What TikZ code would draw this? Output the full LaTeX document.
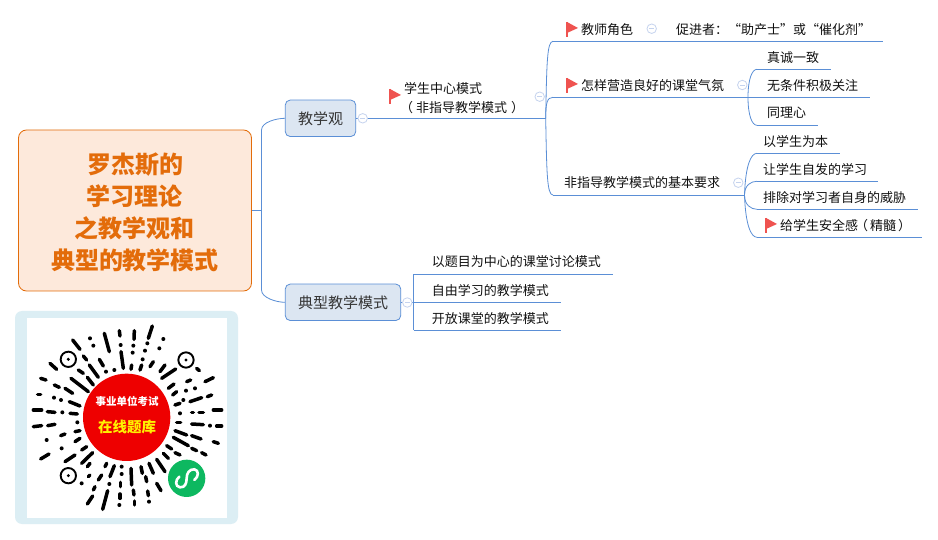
\documentclass[tikz,border=0pt]{standalone}
\usepackage{fontspec}
\setmainfont{Noto Sans CJK SC}
\definecolor{linkc}{HTML}{5B8FD6}
\definecolor{boxfill}{HTML}{DCE6F2}
\definecolor{rootfill}{HTML}{FDE9DB}
\definecolor{rootc}{HTML}{E36C0A}
\definecolor{flagc}{HTML}{EF5350}
\definecolor{collc}{HTML}{C5D3EE}
\definecolor{txt}{HTML}{111111}
\definecolor{qrbg}{HTML}{DCEEF4}
\definecolor{qrred}{HTML}{EE0000}
\definecolor{qrgreen}{HTML}{0DB860}
\definecolor{qryellow}{HTML}{FFF200}
\tikzset{
  conn/.style={draw=linkc,line width=0.8pt},
  topicbox/.style={anchor=south west,inner sep=0pt,minimum height=24pt,align=left,text=txt,font=\fontsize{13}{17}\selectfont},
  mainbox/.style={draw=linkc,fill=boxfill,rounded corners=5pt,line width=0.8pt,inner sep=0pt,text=txt!85!white,font=\fontsize{15}{18}\selectfont},
  rootbox/.style={draw=rootc,fill=rootfill,rounded corners=8pt,line width=0.8pt,inner sep=0pt,align=center,text=rootc,font=\fontsize{24}{32}\selectfont\bfseries},
  collapse/.style={circle,draw=collc,fill=white,line width=0.8pt,minimum size=9.5pt,inner sep=0pt},
  qrstroke/.style={draw=black,line width=3.5pt,line cap=round},
}
\newcommand{\topicat}[6]{\node[topicbox,text width={(#4-#2)*1pt}] (#1) at (#2,#3) {\hspace*{#5pt}#6};
  \draw[conn] (#1.south west) -- (#1.south east);}
\newcommand{\flagat}[2]{\fill[flagc] (#1,#2) rectangle ++(2,15);
  \fill[flagc] (#1+1,#2) -- (#1+12,#2+6) -- (#1+1,#2+11) -- cycle;}
\newcommand{\collapseat}[3]{\node[collapse] (#1) at (#2,#3) {};
  \draw[collc,line width=0.8pt] ([xshift=-2.5pt]#1.center) -- ([xshift=2.5pt]#1.center);}
\begin{document}
\begin{tikzpicture}[x=1pt,y=-1pt]
\useasboundingbox (0,0) rectangle (938,540);
\fill[white] (0,0) rectangle (938,540);

% hubs
\coordinate (trunk) at (261.5,210.5);
\coordinate (hubA) at (545.7,118.3);
\coordinate (hubB) at (748,97.3);
\coordinate (hubC) at (744.5,195);
\coordinate (hubD) at (413.7,302.3);

% root and main boxes
\node[rootbox,minimum width=233pt,minimum height=161pt,text depth=0pt] (root) at (135,210.5) {\raisebox{-1pt}{罗杰斯的}\\\raisebox{-1pt}{学习理论}\\\raisebox{-1pt}{之教学观和}\\\raisebox{-1pt}{典型的教学模式}};
\node[mainbox,minimum width=70.5pt,minimum height=36.5pt] (jxg) at (320.5,118.3) {\raisebox{-1pt}{教学观}};
\node[mainbox,minimum width=115.5pt,minimum height=36.5pt] (dx) at (343,302.3) {\raisebox{-1pt}{典型教学模式}};

\draw[conn] (root.east) -- (trunk);
\draw[conn] (trunk) -- (261.5,130) .. controls +(0,-8) and +(-8,0) .. (jxg.west);
\draw[conn] (trunk) -- (261.5,290) .. controls +(0,8) and +(-8,0) .. (dx.west);
\draw[conn] (jxg.east) -- (hubA);
\draw[conn] (dx.east) -- (hubD);

% centre topic label
\node[anchor=west,inner sep=0pt,align=left,text=txt,font=\fontsize{13}{19}\selectfont] (xs) at (404,98.5) {学生中心模式\\\kern-4pt（\kern3pt 非指导教学模式\kern4pt ）};
\flagat{389}{89}

% level 2 and 3 topics
\topicat{jsjs}{553}{41.3}{660}{28}{教师角色}
\topicat{cj}{660}{41.3}{883}{16}{促进者：“助产士”或“催化剂”}
\topicat{zy}{553}{97.3}{748}{28}{怎样营造良好的课堂气氛}
\topicat{fz}{553}{195}{744.5}{11}{非指导教学模式的基本要求}
\flagat{566}{22}
\flagat{566}{78}

\topicat{zc}{757}{69.3}{831}{10}{真诚一致}
\topicat{wt}{748}{97.3}{870}{19}{无条件积极关注}
\topicat{tl}{757}{125.3}{818}{10}{同理心}

\topicat{yx}{757}{153.3}{840}{6}{以学生为本}
\topicat{rx}{757}{181.3}{878}{6}{让学生自发的学习}
\topicat{pc}{757}{209.3}{918}{6}{排除对学习者自身的威胁}
\topicat{gx}{757}{237.3}{922}{23}{给学生安全感\kern-3pt（\kern2pt 精髓\kern2pt ）}
\flagat{765}{218}

\topicat{yt}{413.7}{274}{613}{18}{以题目为中心的课堂讨论模式}
\topicat{zu}{413.7}{302.3}{561}{18}{自由学习的教学模式}
\topicat{kf}{413.7}{330.3}{561}{18}{开放课堂的教学模式}

% curved links
\draw[conn] (hubA) .. controls +(1,-55) and +(-6,0) .. (jsjs.south west);
\draw[conn] (hubA) .. controls +(0,-15) and +(-6,0) .. (zy.south west);
\draw[conn] (hubA) .. controls +(1,55) and +(-6,0) .. (fz.south west);
\draw[conn] (hubB) .. controls +(0,-18) and +(-5,0) .. (zc.south west);
\draw[conn] (hubB) .. controls +(0,18) and +(-5,0) .. (tl.south west);
\draw[conn] (hubC) .. controls +(1,-30) and +(-6,0) .. (yx.south west);
\draw[conn] (hubC) .. controls +(0,-10) and +(-6,0) .. (rx.south west);
\draw[conn] (hubC) .. controls +(0,10) and +(-6,0) .. (pc.south west);
\draw[conn] (hubC) .. controls +(1,30) and +(-6,0) .. (gx.south west);
\draw[conn] (hubD) -- (yt.south west);
\draw[conn] (hubD) -- (kf.south west);

% collapse markers
\collapseat{c1}{362.7}{118.3}
\collapseat{c2}{407.3}{302.5}
\collapseat{c3}{539.7}{96.7}
\collapseat{c4}{651.7}{28.7}
\collapseat{c5}{742.3}{85}
\collapseat{c6}{738.3}{182.7}

% mini-program code
\fill[qrbg] (15,311) [rounded corners=7pt] rectangle (238,524);
\fill[white] (27,318) rectangle (227,518);
\begin{scope}[shift={(0,300)},x=0.33333pt,y=-0.33333pt]
\foreach \a/\b/\c/\d in {218/120/240/148,313/100/328/155,358/92/360/108,403/92/402/118,457/78/445/115,363/155/370/205,395/195/393/208,460/185/450/200,425/195/420/210,495/195/480/215,298/178/310/198,250/168/260/180,268/195/295/232,235/210/250/220,262/232/280/255,213/235/265/275,150/190/170/208,122/235/138/240,163/255/178/262,195/265/218/280,113/283/122/283,208/305/240/318,100/330/125/330,142/335/165/337,210/340/232/342,100/380/125/377,143/377/165/373,225/395/240/392,182/407/195/402,225/425/240/415,122/477/147/462,195/485/225/465,245/450/260/440,245/490/278/458,262/500/270/490,265/530/270/525,295/540/305/525,315/500/320/490,330/530/343/497,285/560/280/570,262/612/278/588,308/628/323/572,362/547/362/560,360/582/360/595,393/505/395/555,400/570/402/585,403/603/403/615,423/500/427/520,447/490/460/520,437/530/440/545,443/573/445/587,470/478/495/515,470/550/483/572,485/235/527/207,505/265/522/252,518/285/530/275,615/245/640/233,560/245/572/240,590/205/598/212,570/305/605/293,622/290/635/285,525/315/540/310,575/337/580/337,597/337/610/337,640/330/665/330,530/367/542/367,575/372/610/374,650/378/665/378,525/392/560/405,575/407/603/417,640/425/655/430,520/412/565/437,575/445/590/452,605/458/618/465,500/437/515/447,525/458/540/465,490/460/505/475}
  {\draw[qrstroke] (\a,\b) -- (\c,\d);}
\foreach \a/\b in {270/115,280/137,490/117,478/145,362/135,400/137,442/130,398/158,435/152,428/178,343/210,318/215,162/293,183/300,187/337,232/367,140/420,185/445,245/550,328/552,365/500,365/522,358/615,447/605,558/272,585/265,550/300,540/340,630/377}
  {\fill[black] (\a,\b) circle (6);}
\foreach \a/\b in {205/178,558/180,205/527}
  {\draw[black,line width=1.9pt] (\a,\b) circle (23);\fill[black] (\a,\b) circle (5);}
\fill[qrred] (380,352) circle (131);
\fill[qrgreen] (560,535) circle (56);
\draw[white,line width=2.6pt,line cap=round] (538,530) .. controls (525,540) and (525,560) .. (540,562) .. controls (555,563) and (560,550) .. (560,535) .. controls (560,520) and (568,507) .. (583,508) .. controls (597,510) and (597,530) .. (583,540);
\end{scope}
\node[inner sep=0pt,text=white,font=\fontsize{10.5}{12}\selectfont\bfseries] (qra) at (127,401.5) {事业单位考试};
\node[inner sep=0pt,text=qryellow,font=\fontsize{14.5}{17}\selectfont\bfseries] (qrb) at (127,426.5) {在线题库};
\end{tikzpicture}
\end{document}
